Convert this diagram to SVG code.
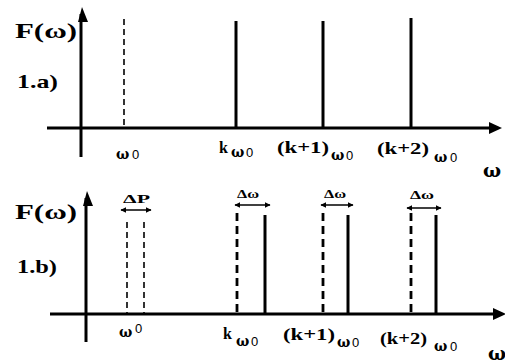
<svg xmlns="http://www.w3.org/2000/svg" width="505" height="363" viewBox="0 0 505 363">
  <style>
    .axis { stroke: #000; stroke-width: 3; fill: none; }
    .line { stroke: #000; stroke-width: 3; fill: none; }
    .dash-thin { stroke: #000; stroke-width: 1.6; stroke-dasharray: 6 4; fill: none; }
    .dash-thick { stroke: #000; stroke-width: 2.8; stroke-dasharray: 8 5; fill: none; }
    .span { stroke: #000; stroke-width: 1.5; fill: none; marker-start: url(#tip); marker-end: url(#tip); }
    .lbl { font-family: "Liberation Serif", "DejaVu Serif", serif; font-weight: bold; fill: #000; }
    .big { font-size: 22px; }
    .mid { font-size: 19px; }
    .sm { font-size: 16px; }
    .om { font-family: "DejaVu Serif", "Liberation Serif", serif; font-weight: bold; font-size: 14px; fill: #000; }
    .zero { font-family: "Liberation Sans", sans-serif; font-weight: normal; font-size: 13px; fill: #000; }
    .dl { font-family: "Liberation Serif", serif; font-weight: bold; font-size: 13px; fill: #000; }
  </style>
  <defs>
    <marker id="tip" viewBox="0 0 10 10" refX="9" refY="5" markerWidth="6" markerHeight="6" orient="auto-start-reverse" markerUnits="userSpaceOnUse">
      <path d="M0,0 L10,5 L0,10 z" fill="#000"/>
    </marker>
  </defs>

  <!-- panel 1.a : line spectrum -->
  <g id="axes-a">
    <line class="axis" x1="81" y1="157" x2="81" y2="14"/>
    <path d="M78,22 L82,7 L88,22 z" fill="#000"/>
    <line class="axis" x1="47" y1="128" x2="492" y2="128"/>
    <path d="M489,122 L502,128 L489,134 z" fill="#000"/>
  </g>
  <g id="lines-a">
    <line class="dash-thin" x1="124" y1="19" x2="124" y2="127"/>
    <line class="line" x1="236" y1="21" x2="236" y2="128"/>
    <line class="line" x1="323" y1="21" x2="323" y2="128"/>
    <line class="line" x1="411" y1="18" x2="411" y2="128"/>
  </g>
  <g id="labels-a">
    <text class="lbl big" x="15" y="38" textLength="62" lengthAdjust="spacingAndGlyphs">F(ω)</text>
    <text class="lbl mid" x="17" y="88" textLength="41" lengthAdjust="spacingAndGlyphs">1.a)</text>
    <text class="om" x="116" y="159">ω</text><text class="zero" x="132" y="159">0</text>
    <text class="lbl sm" x="219" y="153">k</text>
    <text class="om" x="231" y="157">ω</text><text class="zero" x="246" y="157">0</text>
    <text class="lbl sm" x="277" y="153" textLength="52" lengthAdjust="spacingAndGlyphs">(k+1)</text>
    <text class="om" x="331" y="160">ω</text><text class="zero" x="346" y="160">0</text>
    <text class="lbl sm" x="377" y="154" textLength="52" lengthAdjust="spacingAndGlyphs">(k+2)</text>
    <text class="om" x="434" y="162">ω</text><text class="zero" x="450" y="162">0</text>
    <text class="om" x="483" y="177" style="font-size:19px">ω</text>
  </g>

  <!-- panel 1.b : lines with spread -->
  <g id="axes-b">
    <line class="axis" x1="86" y1="342" x2="86" y2="198"/>
    <path d="M83,206 L87,191 L93,206 z" fill="#000"/>
    <line class="axis" x1="50" y1="314" x2="496" y2="314"/>
    <path d="M493,308 L506,314 L493,320 z" fill="#000"/>
  </g>
  <g id="lines-b">
    <line class="dash-thin" x1="127" y1="222" x2="127" y2="313"/>
    <line class="dash-thin" x1="144" y1="222" x2="144" y2="313"/>
    <line class="dash-thick" x1="237" y1="213" x2="237" y2="313"/>
    <line class="line" x1="265" y1="215" x2="265" y2="314"/>
    <line class="dash-thick" x1="323" y1="213" x2="323" y2="313"/>
    <line class="line" x1="348" y1="215" x2="348" y2="314"/>
    <line class="dash-thick" x1="411" y1="213" x2="411" y2="313"/>
    <line class="line" x1="436" y1="215" x2="436" y2="314"/>
  </g>
  <g id="spans-b">
    <line class="span" x1="121" y1="210" x2="151" y2="210"/>
    <line class="span" x1="235" y1="205" x2="270" y2="205"/>
    <line class="span" x1="321" y1="205" x2="353" y2="205"/>
    <line class="span" x1="407" y1="208" x2="441" y2="208"/>
  </g>
  <g id="labels-b">
    <text class="lbl big" x="15" y="219" textLength="62" lengthAdjust="spacingAndGlyphs">F(ω)</text>
    <text class="lbl mid" x="17" y="273" textLength="40" lengthAdjust="spacingAndGlyphs">1.b)</text>
    <text class="dl" x="123" y="203" textLength="27" lengthAdjust="spacingAndGlyphs">ΔP</text>
    <text class="dl" x="237" y="198" textLength="22" lengthAdjust="spacingAndGlyphs">Δω</text>
    <text class="dl" x="324" y="198" textLength="22" lengthAdjust="spacingAndGlyphs">Δω</text>
    <text class="dl" x="410" y="199" textLength="24" lengthAdjust="spacingAndGlyphs">Δω</text>
    <text class="om" x="119" y="337">ω</text><text class="zero" x="135" y="333">0</text>
    <text class="lbl sm" x="223" y="339">k</text>
    <text class="om" x="236" y="346">ω</text><text class="zero" x="251" y="346">0</text>
    <text class="lbl sm" x="283" y="340" textLength="52" lengthAdjust="spacingAndGlyphs">(k+1)</text>
    <text class="om" x="337" y="347">ω</text><text class="zero" x="352" y="347">0</text>
    <text class="lbl sm" x="380" y="344" textLength="47" lengthAdjust="spacingAndGlyphs">(k+2)</text>
    <text class="om" x="434" y="351">ω</text><text class="zero" x="450" y="351">0</text>
    <text class="om" x="488" y="360" style="font-size:19px">ω</text>
  </g>
</svg>
